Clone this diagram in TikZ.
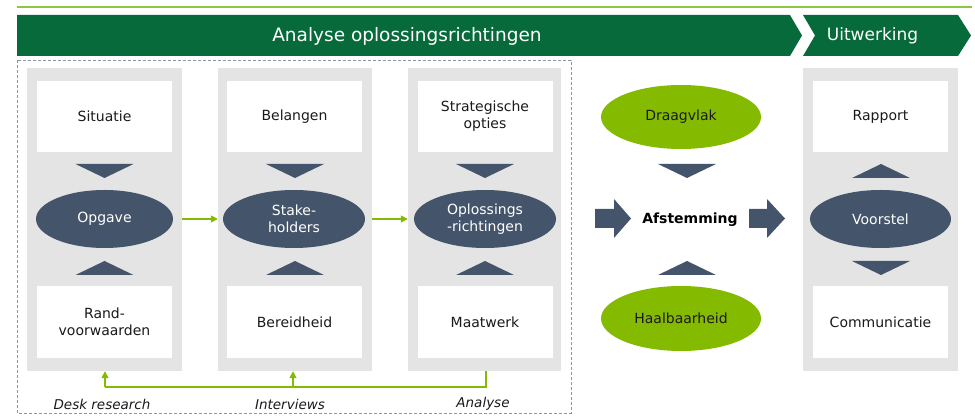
\documentclass[tikz,border=0pt]{standalone}
\usepackage{fontspec}
\setmainfont{DejaVu Sans}
\usetikzlibrary{shapes.geometric,arrows.meta}
\definecolor{bgreen}{HTML}{066A3A}
\definecolor{lgreen}{HTML}{84BB00}
\definecolor{lline}{HTML}{8DC63F}
\definecolor{slate}{HTML}{44546A}
\definecolor{colgray}{HTML}{E4E4E4}
\definecolor{dashc}{HTML}{8A96A8}
\definecolor{txt}{HTML}{1A1A1A}
\newcommand\dtri[2]{\fill[slate] ({#1-29},#2) -- ({#1+29},#2) -- (#1,{#2+14}) -- cycle;}
\newcommand\utri[2]{\fill[slate] ({#1-29},{#2+14}) -- ({#1+29},{#2+14}) -- (#1,#2) -- cycle;}
\tikzset{
  colbox/.style={fill=colgray, minimum width=155pt, minimum height=303pt, inner sep=0pt},
  wbox/.style={fill=white, minimum width=135pt, minimum height=71pt, inner sep=0pt, align=center,
    font=\fontsize{14}{17}\selectfont, text=txt},
  dell/.style={ellipse, fill=slate, text=white, minimum width=140pt, minimum height=58pt, inner sep=0pt,
    align=center, font=\fontsize{14}{17}\selectfont},
  gell/.style={ellipse, fill=lgreen, text=txt, minimum width=160pt, minimum height=64pt, inner sep=0pt,
    align=center, font=\fontsize{14}{17}\selectfont},
  garrow/.style={draw=lgreen, line width=1.5pt, -{Triangle[length=7pt,width=7pt]}},
  gline/.style={draw=lgreen, line width=1.5pt},
  lab/.style={font=\itshape\fontsize{13.5}{16}\selectfont, text=txt},
  bannertext/.style={text=white, font=\fontsize{18.5}{20}\selectfont},
}
\begin{document}
\begin{tikzpicture}[x=1pt,y=-1pt]
\useasboundingbox[fill=white] (0,0) rectangle (975,419);
% top line
\draw[lline, line width=1.8pt] (17,7) -- (972,7);
% banners
\fill[bgreen] (17,15) -- (790,15) -- (802,35.5) -- (790,56) -- (17,56) -- cycle;
\fill[bgreen] (803,15) -- (958,15) -- (971,35.5) -- (958,56) -- (803,56) -- (815,35.5) -- cycle;
\node[bannertext] (b1) at (407,36) {Analyse oplossingsrichtingen};
\node[bannertext, font=\fontsize{17}{20}\selectfont] (b2) at (872.5,36) {Uitwerking};
% dashed frame
\draw[dashc, line width=0.9pt, dash pattern=on 3pt off 2pt] (17,60) rectangle (571,413);
% columns
\node[colbox] (c1) at (104.5,219.5) {};
\node[colbox, minimum width=154pt] (c2) at (295,219.5) {};
\node[colbox, minimum width=153pt] (c3) at (484.5,219.5) {};
\node[colbox] (c4) at (880.5,219.5) {};
% top boxes
\node[wbox] (sit) at (104.5,116.5) {Situatie};
\node[wbox] (bel) at (294.5,116.5) {Belangen};
\node[wbox] (str) at (485,116.5) {Strategische\\opties};
\node[wbox] (rap) at (880.5,116.5) {Rapport};
% bottom boxes
\node[wbox, minimum height=72pt] (ran) at (104.5,322) {Rand-\\voorwaarden};
\node[wbox, minimum height=72pt] (ber) at (294.5,322) {Bereidheid};
\node[wbox, minimum height=72pt] (maa) at (485,322) {Maatwerk};
\node[wbox, minimum height=72pt] (com) at (880.5,322) {Communicatie};
% ellipses
\node[dell, minimum width=137pt] (opg) at (104.5,219) {Opgave};
\node[dell, minimum width=142pt] (sta) at (294,219) {Stake-\\holders};
\node[dell, minimum width=142pt] (opl) at (485,219) {Oplossings\\-richtingen};
\node[dell, minimum width=141pt] (voo) at (880.5,219) {Voorstel};
\node[gell] (dra) at (681,117) {Draagvlak};
\node[gell, minimum height=65pt] (haa) at (681,318.5) {Haalbaarheid};
\node[font=\bfseries\fontsize{14}{17}\selectfont, text=black] (afs) at (690,220) {Afstemming};
% triangles
\dtri{104.5}{164} \utri{104.5}{261}
\dtri{295}{164} \utri{295}{261}
\dtri{485}{164} \utri{485}{261}
\dtri{687}{164} \utri{687}{261}
\utri{881}{164} \dtri{881}{261}
% block arrows
\fill[slate] (595,209) -- (614,209) -- (614,199) -- (631,218.5) -- (614,238) -- (614,228) -- (595,228) -- cycle;
\fill[slate] (749,209) -- (767,209) -- (767,199) -- (785,218.5) -- (767,238) -- (767,228) -- (749,228) -- cycle;
% green arrows between columns
\draw[garrow] (c1.east |- opg.center) -- (c2.west |- opg.center);
\draw[garrow] (c2.east |- opg.center) -- (c3.west |- opg.center);
% feedback loop
\coordinate (fb) at (486,387);
\draw[gline] ([xshift=1.5pt]c3.south) -- ([xshift=1.5pt]c3.south |- fb) -- ([xshift=0.5pt]c1.south |- fb);
\draw[garrow] ([xshift=0.5pt]c1.south |- fb) -- ([xshift=0.5pt]c1.south);
\draw[garrow] ([xshift=-2pt]c2.south |- fb) -- ([xshift=-2pt]c2.south);
% labels
\node[lab] (l1) at (102,404) {Desk research};
\node[lab] (l2) at (290,404) {Interviews};
\node[lab] (l3) at (483,404) {Analyse};
\end{tikzpicture}
\end{document}
